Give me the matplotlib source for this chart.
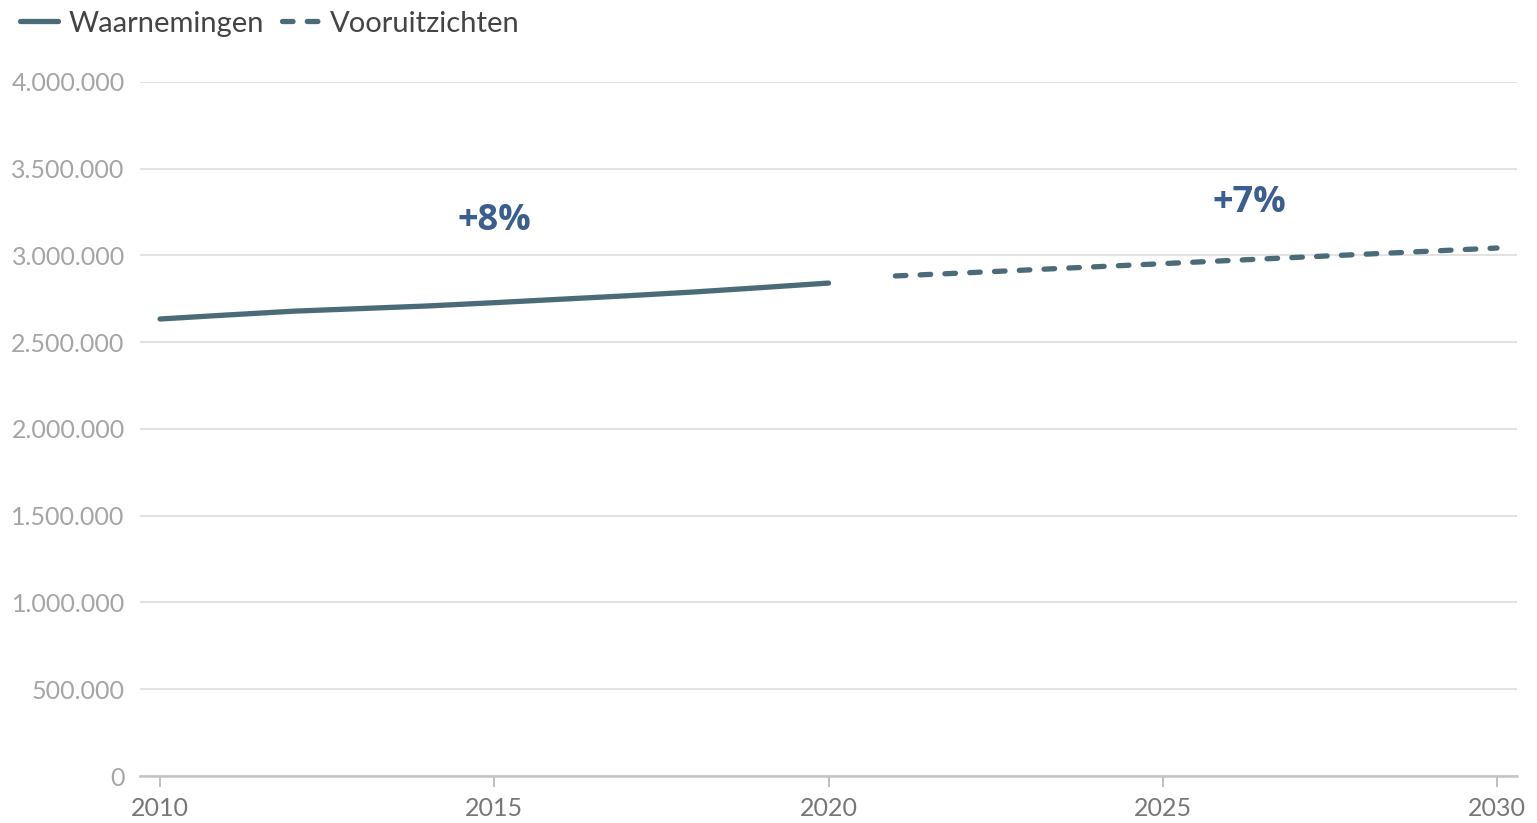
import matplotlib
matplotlib.use('Agg')
import matplotlib.pyplot as plt
from matplotlib.ticker import FuncFormatter

# observed values (2010-2020) and forecast (2021-2030)
obs_years = [2010, 2011, 2012, 2013, 2014, 2015, 2016, 2017, 2018, 2019, 2020]
obs_values = [2634000, 2657000, 2679000, 2694000, 2709000, 2728000, 2748000, 2768000, 2790000, 2815000, 2841000]
fc_years = [2021, 2022, 2023, 2024, 2025, 2026, 2027, 2028, 2029, 2030]
fc_values = [2882000, 2899000, 2917000, 2935000, 2953000, 2971000, 2989000, 3007000, 3025000, 3043000]

labels = ['Waarnemingen', 'Vooruitzichten']
notes = ['+8%', '+7%']
note_pos = [(2015, 3200000), (2026.3, 3300000)]

xticks = [2010, 2015, 2020, 2025, 2030]
yticks = [0, 500000, 1000000, 1500000, 2000000, 2500000, 3000000, 3500000, 4000000]

line_color = '#4b6b79'
note_color = '#3a5f8f'

plt.rcParams['font.family'] = ['Lato', 'DejaVu Sans']

fig = plt.figure(figsize=(15.37, 8.23), dpi=100)
ax = fig.add_axes([0.0911, 0.0571, 0.8959, 0.8433])

l1, = ax.plot(obs_years, obs_values, color=line_color, lw=3.8, solid_capstyle='round')
l2, = ax.plot(fc_years, fc_values, color=line_color, lw=3.8, dash_capstyle='round',
              dashes=(2.0, 2.7))

for txt, (x, y) in zip(notes, note_pos):
    ax.text(x, y, txt, color=note_color, fontsize=26, fontweight='bold',
            ha='center', va='center', family=['Open Sans', 'DejaVu Sans'])

ax.set_xlim(2009.7, 2030.3)
ax.set_ylim(0, 4000000)
ax.set_xticks(xticks)
ax.set_yticks(yticks)
ax.yaxis.set_major_formatter(FuncFormatter(lambda v, p: '{:,}'.format(int(v)).replace(',', '.')))

ax.grid(axis='y', color='#e2e2e2', lw=1.5)
ax.set_axisbelow(True)
for s in ['top', 'right', 'left']:
    ax.spines[s].set_visible(False)
ax.spines['bottom'].set_color('#c4c4c4')
ax.spines['bottom'].set_linewidth(1.8)

ax.tick_params(axis='y', length=0, pad=11, labelsize=18, labelcolor='#a5a5a5')
ax.tick_params(axis='x', length=8, width=1.2, color='#b5b5b5', pad=7,
               labelsize=18, labelcolor='#777777')

fig.legend([l1, l2], labels, loc='upper left', bbox_to_anchor=(0.0, 1.012),
           ncol=2, frameon=False, fontsize=21, handlelength=1.3, handletextpad=0.35,
           columnspacing=0.6, borderpad=0.2, labelcolor='#444444')

fig.savefig('out.png', dpi=100)
